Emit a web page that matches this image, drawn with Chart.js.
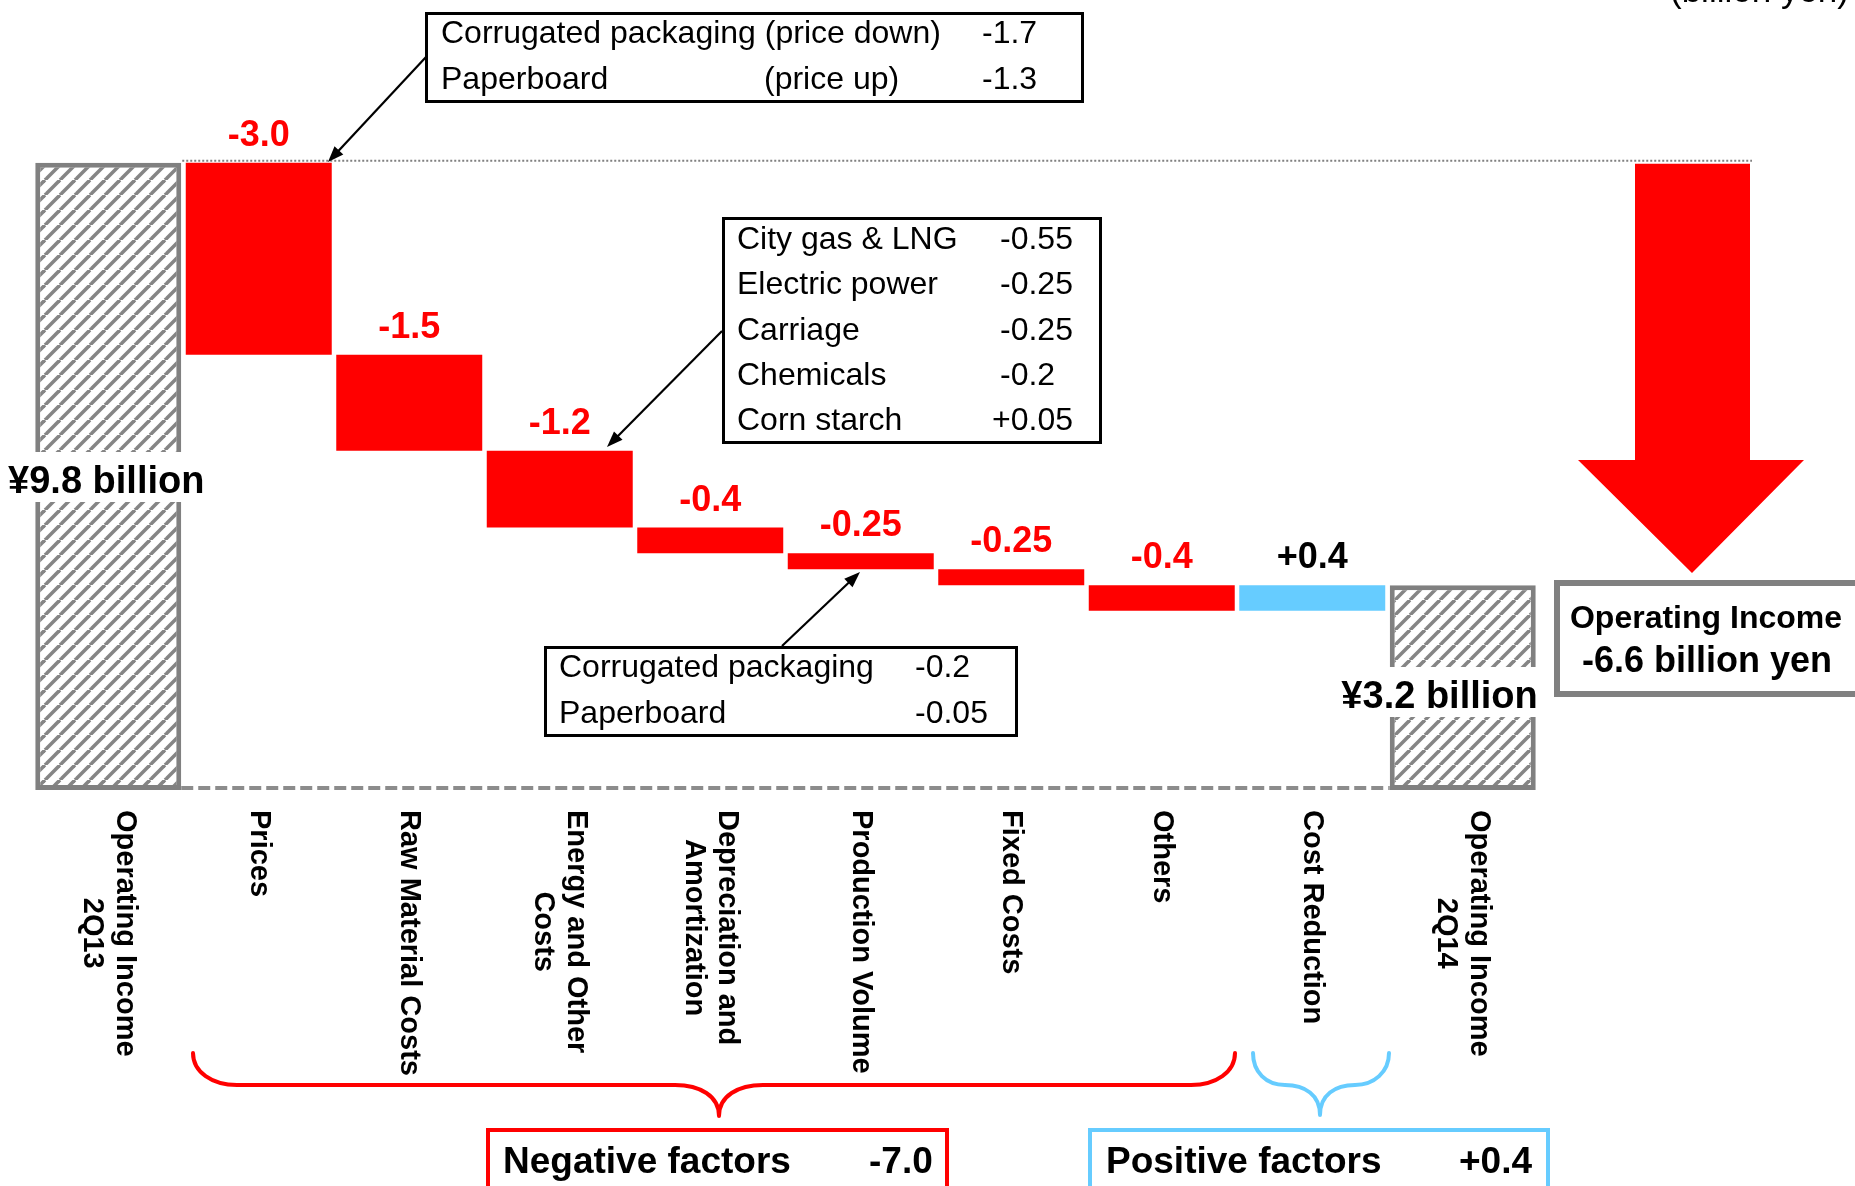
<!DOCTYPE html>
<html><head><meta charset="utf-8">
<script src="https://cdn.jsdelivr.net/npm/chart.js@4.4.1/dist/chart.umd.min.js"></script>
<style>html,body{margin:0;padding:0;background:#fff;overflow:hidden}canvas{display:block}</style>
</head><body>
<canvas id="c" width="1855" height="1186"></canvas>
<script>
// ---------- data ----------
const categories = [["Operating Income","2Q13"], "Prices", "Raw Material Costs", ["Energy and Other","Costs"],
  ["Depreciation and","Amortization"], "Production Volume", "Fixed Costs", "Others", "Cost Reduction", ["Operating Income","2Q14"]];
const openingValue = 9.8;
const closingValue = 3.2;
const changes = [-3.0, -1.5, -1.2, -0.4, -0.25, -0.25, -0.4, 0.4];
const changeLabels = ["-3.0", "-1.5", "-1.2", "-0.4", "-0.25", "-0.25", "-0.4", "+0.4"];
const openingLabel = "¥9.8 billion";
const closingLabel = "¥3.2 billion";
const priceRows = [["Corrugated packaging (price down)", "", "-1.7"], ["Paperboard", "(price up)", "-1.3"]];
const energyRows = [["City gas & LNG", "-0.55"], ["Electric power", "-0.25"], ["Carriage", "-0.25"], ["Chemicals", "-0.2"], ["Corn starch", "+0.05"]];
const volumeRows = [["Corrugated packaging", "-0.2"], ["Paperboard", "-0.05"]];
const totalChangeText = ["Operating Income", "-6.6 billion yen"];
const negativeSummary = ["Negative factors", "-7.0"];
const positiveSummary = ["Positive factors", "+0.4"];
const unitText = "(billion yen)";

// ---------- build waterfall ranges ----------
const ranges = [[0, openingValue]];
let running = openingValue;
changes.forEach(c => { ranges.push([running, +(running + c).toFixed(2)]); running = +(running + c).toFixed(2); });
ranges.push([0, closingValue]);

const RED = '#FF0000', BLUE = '#66CCFF', GREY = '#808080';
const FF = '"Liberation Sans", Arial, Helvetica, sans-serif';

// hatch pattern
function hatch() {
  const p = 15, c = document.createElement('canvas');
  c.width = p; c.height = p;
  const g = c.getContext('2d');
  g.fillStyle = '#fff'; g.fillRect(0, 0, p, p);
  g.strokeStyle = '#858585'; g.lineWidth = 3.6;
  for (const x0 of [-p, 0, p]) { g.beginPath(); g.moveTo(x0, p); g.lineTo(x0 + p, 0); g.stroke(); }
  return g.createPattern(c, 'repeat');
}
const pat = hatch();

const bg = ranges.map((r, i) => (i === 0 || i === ranges.length - 1) ? pat : (changes[i - 1] < 0 ? RED : BLUE));
const bc = ranges.map((r, i) => (i === 0 || i === ranges.length - 1) ? GREY : 'rgba(0,0,0,0)');
const bw = ranges.map((r, i) => (i === 0 || i === ranges.length - 1) ? 5 : 0);

function arrow(ctx, x1, y1, x2, y2, lw, color, hl, hw) {
  ctx.save();
  ctx.strokeStyle = color; ctx.fillStyle = color; ctx.lineWidth = lw; ctx.setLineDash([]);
  const a = Math.atan2(y2 - y1, x2 - x1);
  ctx.beginPath(); ctx.moveTo(x1, y1); ctx.lineTo(x2 - Math.cos(a) * hl * 0.8, y2 - Math.sin(a) * hl * 0.8); ctx.stroke();
  ctx.beginPath();
  ctx.moveTo(x2, y2);
  ctx.lineTo(x2 - Math.cos(a) * hl + Math.sin(a) * hw / 2, y2 - Math.sin(a) * hl - Math.cos(a) * hw / 2);
  ctx.lineTo(x2 - Math.cos(a) * hl - Math.sin(a) * hw / 2, y2 - Math.sin(a) * hl + Math.cos(a) * hw / 2);
  ctx.closePath(); ctx.fill();
  ctx.restore();
}

const decor = {
  id: 'decor',
  afterDatasetsDraw(chart) {
    const ctx = chart.ctx;
    const bars = chart.getDatasetMeta(0).data;
    const ys = chart.scales.y, xs = chart.scales.x;
    const n = bars.length;
    ctx.save();
    ctx.textBaseline = 'alphabetic';

    // reference lines
    const yTop = ys.getPixelForValue(openingValue);
    const y0 = ys.getPixelForValue(0);
    ctx.strokeStyle = GREY; ctx.lineWidth = 2; ctx.setLineDash([2, 2]);
    ctx.beginPath(); ctx.moveTo(bars[0].x + bars[0].width / 2 + 1, yTop - 2); ctx.lineTo(1752, yTop - 2); ctx.stroke();
    ctx.strokeStyle = '#8c8c8c'; ctx.lineWidth = 4; ctx.setLineDash([12, 5]);
    ctx.beginPath(); ctx.moveTo(bars[0].x + bars[0].width / 2, y0 - 2); ctx.lineTo(bars[n - 1].x - bars[n - 1].width / 2, y0 - 2); ctx.stroke();
    ctx.setLineDash([]);

    // change labels
    ctx.font = 'bold 36px ' + FF; ctx.textAlign = 'center';
    for (let i = 1; i < n - 1; i++) {
      const b = bars[i];
      const top = Math.min(b.y, b.base);
      ctx.fillStyle = changes[i - 1] < 0 ? RED : '#000';
      ctx.fillText(changeLabels[i - 1], b.x, top - 17);
    }

    // start / end value labels with white background
    ctx.font = 'bold 38px ' + FF;
    let w = ctx.measureText(openingLabel).width;
    let cx = bars[0].x - 2;
    ctx.fillStyle = '#fff'; ctx.fillRect(cx - w / 2 - 4, 452, w + 8, 50);
    ctx.fillStyle = '#000'; ctx.textAlign = 'center'; ctx.fillText(openingLabel, cx, 493);
    w = ctx.measureText(closingLabel).width;
    const rx = bars[n - 1].x + bars[n - 1].width / 2 + 2;
    ctx.fillStyle = '#fff'; ctx.fillRect(rx - w - 4, 667, w + 8, 50);
    ctx.fillStyle = '#000'; ctx.textAlign = 'right'; ctx.fillText(closingLabel, rx, 708);

    // category labels, rotated clockwise
    ctx.font = 'bold 29px ' + FF; ctx.fillStyle = '#000'; ctx.textAlign = 'center'; ctx.textBaseline = 'middle';
    categories.forEach((cat, i) => {
      const lines = Array.isArray(cat) ? cat : [cat];
      const W = Math.max(...lines.map(l => ctx.measureText(l).width));
      ctx.save();
      ctx.translate(xs.getPixelForValue(i), 810);
      ctx.rotate(Math.PI / 2);
      lines.forEach((l, j) => ctx.fillText(l, W / 2, (j - (lines.length - 1) / 2) * 33));
      ctx.restore();
    });
    ctx.textBaseline = 'alphabetic';

    // annotation boxes
    ctx.strokeStyle = '#000'; ctx.lineWidth = 3;
    ctx.strokeRect(426.5, 13.5, 656, 88);
    ctx.strokeRect(723.5, 218.5, 377, 224);
    ctx.strokeRect(545.5, 647.5, 471, 88);
    ctx.font = '32px ' + FF; ctx.fillStyle = '#000'; ctx.textAlign = 'left';
    priceRows.forEach((r, i) => {
      const by = 43 + i * 46;
      ctx.fillText(r[0], 441, by);
      if (r[1]) ctx.fillText(r[1], 764, by);
      ctx.fillText(r[2], 982, by);
    });
    energyRows.forEach((r, i) => {
      const by = 249 + i * 45.3;
      ctx.fillText(r[0], 737, by);
      ctx.fillText(r[1], r[1][0] === '+' ? 992 : 1000, by);
    });
    volumeRows.forEach((r, i) => {
      const by = 677 + i * 46;
      ctx.fillText(r[0], 559, by);
      ctx.fillText(r[1], 915, by);
    });
    arrow(ctx, 426, 57, 328, 162, 2.2, '#000', 16, 12);
    arrow(ctx, 722, 331, 607, 447, 2.2, '#000', 16, 12);
    arrow(ctx, 782, 646, 860, 572, 2.2, '#000', 16, 12);

    // big red arrow
    ctx.fillStyle = RED;
    ctx.beginPath();
    ctx.moveTo(1635, yTop + 1); ctx.lineTo(1750, yTop + 1); ctx.lineTo(1750, 460); ctx.lineTo(1804, 460);
    ctx.lineTo(1692, 573); ctx.lineTo(1578, 460); ctx.lineTo(1635, 460); ctx.closePath(); ctx.fill();

    // total change box
    ctx.strokeStyle = GREY; ctx.lineWidth = 6;
    ctx.strokeRect(1557, 583, 340, 111);
    ctx.fillStyle = '#000'; ctx.textAlign = 'center';
    ctx.font = 'bold 32px ' + FF; ctx.fillText(totalChangeText[0], 1706, 628);
    ctx.font = 'bold 36px ' + FF; ctx.fillText(totalChangeText[1], 1707, 672);

    // braces
    ctx.lineWidth = 4; ctx.lineCap = 'round';
    ctx.strokeStyle = RED;
    ctx.beginPath();
    ctx.moveTo(193, 1053); ctx.bezierCurveTo(193, 1072, 212, 1085, 237, 1085);
    ctx.lineTo(675, 1085); ctx.bezierCurveTo(700, 1085, 719, 1096, 719, 1116);
    ctx.moveTo(719, 1116); ctx.bezierCurveTo(719, 1096, 738, 1085, 763, 1085);
    ctx.lineTo(1191, 1085); ctx.bezierCurveTo(1216, 1085, 1235, 1072, 1235, 1053);
    ctx.stroke();
    ctx.strokeStyle = BLUE;
    ctx.beginPath();
    ctx.moveTo(1253, 1053); ctx.bezierCurveTo(1253, 1072, 1266, 1085, 1285, 1085);
    ctx.bezierCurveTo(1305, 1085, 1320, 1095, 1320, 1115);
    ctx.moveTo(1320, 1115); ctx.bezierCurveTo(1320, 1095, 1335, 1085, 1355, 1085);
    ctx.bezierCurveTo(1374, 1085, 1389, 1072, 1389, 1053);
    ctx.stroke();
    ctx.lineCap = 'butt';

    // summary boxes
    ctx.lineWidth = 4;
    ctx.strokeStyle = RED; ctx.strokeRect(488, 1130, 459, 80);
    ctx.strokeStyle = BLUE; ctx.strokeRect(1090, 1130, 458, 80);
    ctx.fillStyle = '#000'; ctx.textAlign = 'left'; ctx.font = 'bold 37px ' + FF;
    ctx.fillText(negativeSummary[0], 503, 1173); ctx.fillText(negativeSummary[1], 869, 1173);
    ctx.fillText(positiveSummary[0], 1106, 1173); ctx.fillText(positiveSummary[1], 1459, 1173);

    // unit
    ctx.font = '35px ' + FF; ctx.fillText(unitText, 1670, 2);
    ctx.restore();
  }
};

new Chart(document.getElementById('c'), {
  type: 'bar',
  data: {
    labels: categories,
    datasets: [{
      data: ranges,
      backgroundColor: bg,
      borderColor: bc,
      borderWidth: bw,
      borderSkipped: false,
      barPercentage: 0.97,
      categoryPercentage: 1.0
    }]
  },
  options: {
    responsive: false,
    devicePixelRatio: 1,
    animation: false,
    layout: { padding: { left: 33, right: 317, top: 22, bottom: 396 } },
    plugins: { legend: { display: false }, tooltip: { enabled: false } },
    scales: {
      x: { display: false },
      y: { display: false, min: 0, max: 12 }
    }
  },
  plugins: [decor]
});
</script>
</body></html>
